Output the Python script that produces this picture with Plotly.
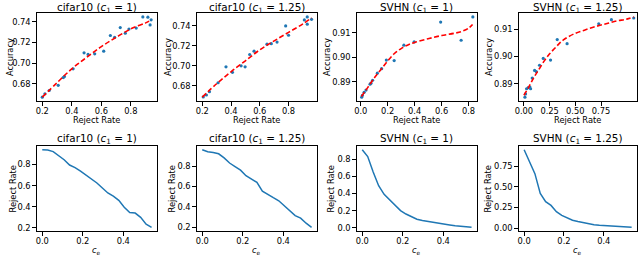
import plotly.graph_objects as go

# ---------------- data ----------------
titles = ["cifar10 (<i>c</i><sub>1</sub> = 1)", "cifar10 (<i>c</i><sub>1</sub> = 1.25)",
          "SVHN (<i>c</i><sub>1</sub> = 1)", "SVHN (<i>c</i><sub>1</sub> = 1.25)"]

# scatter: reject rate vs accuracy
c10a_rr = [0.20, 0.218, 0.247, 0.308, 0.342, 0.35, 0.409, 0.483, 0.51, 0.555, 0.616, 0.661, 0.69, 0.728, 0.762, 0.787, 0.836, 0.881, 0.915, 0.937, 0.93]
c10a_acc = [0.667, 0.6703, 0.6735, 0.6785, 0.686, 0.687, 0.6945, 0.710, 0.7084, 0.709, 0.7116, 0.7268, 0.725, 0.7345, 0.729, 0.733, 0.734, 0.7448, 0.7445, 0.742, 0.737]
c10a_fit_x = [0.20, 0.30, 0.40, 0.50, 0.60, 0.70, 0.80, 0.90, 0.94]
c10a_fit_y = [0.667, 0.681, 0.6945, 0.7055, 0.716, 0.725, 0.7332, 0.739, 0.742]

c10b_rr = [0.207, 0.229, 0.25, 0.31, 0.365, 0.41, 0.47, 0.498, 0.53, 0.56, 0.65, 0.68, 0.72, 0.78, 0.80, 0.91, 0.93, 0.93, 0.96]
c10b_acc = [0.6688, 0.6707, 0.674, 0.683, 0.699, 0.6934, 0.700, 0.699, 0.7113, 0.7146, 0.7217, 0.7222, 0.7238, 0.740, 0.7306, 0.746, 0.749, 0.7417, 0.7466]
c10b_fit_x = [0.20, 0.30, 0.40, 0.50, 0.60, 0.70, 0.80, 0.90, 0.96]
c10b_fit_y = [0.6685, 0.682, 0.694, 0.705, 0.716, 0.725, 0.7335, 0.742, 0.748]

svha_rr = [0.007, 0.012, 0.025, 0.039, 0.069, 0.076, 0.088, 0.123, 0.155, 0.19, 0.248, 0.32, 0.396, 0.593, 0.745, 0.832]
svha_acc = [0.8837, 0.8844, 0.8857, 0.8866, 0.889, 0.8894, 0.8906, 0.8935, 0.8953, 0.8988, 0.8986, 0.9049, 0.9062, 0.9143, 0.9069, 0.9164]
svha_fit_x = [0.005, 0.05, 0.10, 0.15, 0.20, 0.25, 0.30, 0.35, 0.40, 0.50, 0.60, 0.70, 0.75, 0.80, 0.83]
svha_fit_y = [0.884, 0.8875, 0.8915, 0.895, 0.8985, 0.9015, 0.9035, 0.905, 0.906, 0.9075, 0.9088, 0.9098, 0.9105, 0.9118, 0.9133]

svhb_rr = [0.01, 0.016, 0.026, 0.042, 0.058, 0.065, 0.081, 0.104, 0.12, 0.152, 0.188, 0.259, 0.324, 0.42, 0.728, 0.851, 1.068]
svhb_acc = [0.8851, 0.8863, 0.8882, 0.8886, 0.8888, 0.8882, 0.8921, 0.8949, 0.8945, 0.8968, 0.8993, 0.8987, 0.9062, 0.9047, 0.912, 0.9135, 0.9141]
svhb_fit_x = [0.0, 0.05, 0.10, 0.15, 0.20, 0.25, 0.30, 0.35, 0.40, 0.50, 0.60, 0.70, 0.80, 0.90, 1.00, 1.07]
svhb_fit_y = [0.8858, 0.889, 0.8925, 0.8955, 0.8985, 0.901, 0.903, 0.905, 0.9065, 0.9085, 0.9098, 0.911, 0.912, 0.913, 0.9137, 0.9145]

# lines: c_e vs reject rate
ce = [0.0, 0.027, 0.054, 0.081, 0.108, 0.135, 0.162, 0.189, 0.216, 0.243, 0.27,
      0.297, 0.324, 0.351, 0.378, 0.405, 0.432, 0.459, 0.486, 0.513, 0.54]
rr_c10a = [0.94, 0.937, 0.922, 0.882, 0.845, 0.795, 0.77, 0.737, 0.70, 0.668, 0.625,
           0.578, 0.53, 0.50, 0.46, 0.395, 0.345, 0.34, 0.30, 0.235, 0.205]
rr_c10b = [0.96, 0.94, 0.933, 0.92, 0.88, 0.83, 0.795, 0.76, 0.705, 0.675, 0.64,
           0.555, 0.52, 0.49, 0.46, 0.41, 0.355, 0.315, 0.29, 0.24, 0.20]
rr_svha = [0.91, 0.83, 0.65, 0.49, 0.39, 0.33, 0.26, 0.20, 0.16, 0.125, 0.10,
           0.085, 0.073, 0.06, 0.05, 0.042, 0.032, 0.022, 0.015, 0.01, 0.005]
rr_svhb = [0.95, 0.80, 0.66, 0.42, 0.32, 0.275, 0.20, 0.155, 0.12, 0.095, 0.08,
           0.065, 0.05, 0.042, 0.035, 0.03, 0.022, 0.018, 0.015, 0.012, 0.01]

top_xticks = [[0.2, 0.4, 0.6, 0.8], [0.2, 0.4, 0.6, 0.8],
              [0.0, 0.2, 0.4, 0.6, 0.8], [0.0, 0.25, 0.5, 0.75]]
top_yticks = [[0.68, 0.70, 0.72, 0.74], [0.68, 0.70, 0.72, 0.74],
              [0.89, 0.90, 0.91], [0.89, 0.90, 0.91]]
bot_xticks = [0.0, 0.2, 0.4]
bot_yticks = [[0.2, 0.4, 0.6, 0.8], [0.2, 0.4, 0.6, 0.8],
              [0.0, 0.2, 0.4, 0.6, 0.8], [0.0, 0.25, 0.5, 0.75]]

# ---------------- layout ----------------
W, H = 640, 257
cols_px = [(33, 154), (194, 315), (355, 476), (518, 637)]
top_px = (13, 102)
bot_px = (147, 233)
top_ylab_off = [27, 29, 30, 30]
bot_ylab_off = [24, 25, 26, 31]

BLUE = "#1f77b4"
FONT = "DejaVu Sans"
TICK = 8.3
TITLE = 10.4


def xd(c):
    return [c[0] / W, c[1] / W]


def yd(r):
    return [1 - r[1] / H, 1 - r[0] / H]


def pad(vals, f=0.05):
    lo, hi = min(vals), max(vals)
    d = (hi - lo) * f
    return [lo - d, hi + d]


def ann(text, xpx, ypx, size, angle=0):
    return dict(text=text, x=xpx / W, y=1 - ypx / H, xref="paper", yref="paper",
                xanchor="center", yanchor="middle", showarrow=False, textangle=angle,
                font=dict(family=FONT, size=size, color="black"))


fig = go.Figure()

scatter_sets = [
    (c10a_rr, c10a_acc, c10a_fit_x, c10a_fit_y),
    (c10b_rr, c10b_acc, c10b_fit_x, c10b_fit_y),
    (svha_rr, svha_acc, svha_fit_x, svha_fit_y),
    (svhb_rr, svhb_acc, svhb_fit_x, svhb_fit_y),
]
line_sets = [rr_c10a, rr_c10b, rr_svha, rr_svhb]
top_xfmt = [".1f", ".1f", ".1f", ".2f"]
bot_yfmt = [".1f", ".1f", ".1f", ".2f"]
top_xrange = [None, None, [-0.0295, 0.863], [-0.05, 1.10]]

axis_common = dict(showline=True, linecolor="black", linewidth=1, mirror=True,
                   ticks="outside", ticklen=3.5, tickwidth=0.8, tickcolor="black",
                   showgrid=False, zeroline=False,
                   tickfont=dict(family=FONT, size=TICK, color="black"))

annotations = []
for i in range(4):
    cx = (cols_px[i][0] + cols_px[i][1]) / 2
    # ---- top row ----
    n = i + 1
    sfx = "" if n == 1 else str(n)
    xa, ya = "x" + sfx, "y" + sfx
    rr, acc, fx, fy = scatter_sets[i]
    fig.add_trace(go.Scatter(x=rr, y=acc, mode="markers", xaxis=xa, yaxis=ya,
                             marker=dict(color=BLUE, size=3.2, line=dict(width=0)),
                             showlegend=False))
    fig.add_trace(go.Scatter(x=fx, y=fy, mode="lines", xaxis=xa, yaxis=ya,
                             line=dict(color="red", dash="5px,2.5px", width=1.6, shape="spline"),
                             showlegend=False))
    xr = top_xrange[i] if top_xrange[i] else pad(rr + fx)
    fig.layout["xaxis" + sfx] = dict(domain=xd(cols_px[i]), anchor=ya, range=xr,
                                     tickvals=top_xticks[i], tickformat=top_xfmt[i],
                                     ticklabelstandoff=-2, **axis_common)
    fig.layout["yaxis" + sfx] = dict(domain=yd(top_px), anchor=xa, range=pad(acc + fy),
                                     tickvals=top_yticks[i], tickformat=".2f",
                                     **axis_common)
    annotations.append(ann(titles[i], cx, 8, TITLE))
    annotations.append(ann("Reject Rate", cx, 120.5, TICK))
    annotations.append(ann("Accuracy", cols_px[i][0] - top_ylab_off[i],
                           (top_px[0] + top_px[1]) / 2, TICK, -90))

    # ---- bottom row ----
    m = i + 5
    xb, yb = "x%d" % m, "y%d" % m
    fig.add_trace(go.Scatter(x=ce, y=line_sets[i], mode="lines", xaxis=xb, yaxis=yb,
                             line=dict(color=BLUE, width=1.5), showlegend=False))
    fig.layout["xaxis%d" % m] = dict(domain=xd(cols_px[i]), anchor=yb, range=pad(ce),
                                     tickvals=bot_xticks, tickformat=".1f",
                                     ticklabelstandoff=-2, **axis_common)
    fig.layout["yaxis%d" % m] = dict(domain=yd(bot_px), anchor=xb, range=pad(line_sets[i]),
                                     tickvals=bot_yticks[i], tickformat=bot_yfmt[i],
                                     **axis_common)
    annotations.append(ann(titles[i], cx, 140.5, TITLE))
    annotations.append(ann("<i>c</i><sub>e</sub>", cx, 252.5, TICK))
    annotations.append(ann("Reject Rate", cols_px[i][0] - bot_ylab_off[i],
                           (bot_px[0] + bot_px[1]) / 2, TICK, -90))

fig.update_layout(width=W, height=H, margin=dict(l=0, r=0, t=0, b=0),
                  paper_bgcolor="white", plot_bgcolor="white",
                  annotations=annotations, font=dict(family=FONT, color="black"))

fig.write_html("out.html", config={"displayModeBar": False},
               post_script="document.body.style.margin='0';document.body.style.padding='0';document.body.style.overflow='hidden';")
